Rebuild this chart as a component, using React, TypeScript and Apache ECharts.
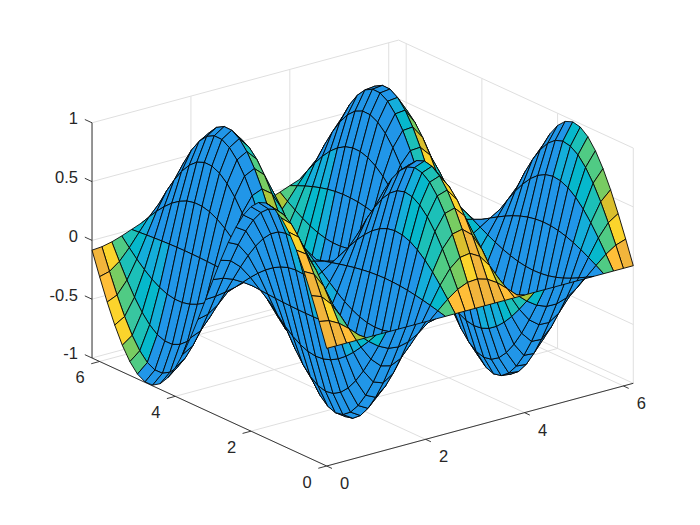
import React, { useEffect, useRef } from "react";
import * as echarts from "echarts";

// Height profile read along x (y held at the ridge), one value per mesh column
const zAlongX = [1, 0.921, 0.697, 0.362, -0.029, -0.416, -0.737, -0.942, -0.998, -0.897, -0.654, -0.307, 0.087, 0.469, 0.776, 0.96, 0.993, 0.869, 0.608, 0.246, -0.146, -0.519, -0.811, -0.975, -0.985, -0.839, -0.557, -0.186, 0.203, 0.568, 0.844, 0.986];
// Height profile read along y, one value per mesh row
const zAlongY = [0, 0.199, 0.389, 0.565, 0.717, 0.841, 0.932, 0.985, 1, 0.974, 0.909, 0.808, 0.675, 0.516, 0.335, 0.141, -0.058, -0.256, -0.443, -0.612, -0.757, -0.872, -0.952, -0.994, -0.996, -0.959, -0.883, -0.773, -0.631, -0.465, -0.279, -0.083];
// Colour strength of each face, read per column and per row
const colourAlongX = [1.3, 0.8, 0.56, 0.4, 0.28, 0.18, 0.1, -0.3, -1, -0.55, -0.3, -0.15, 0.3, 0.56, 0.62, 0.8, 1.3, 0.8, 0.66, 0.56, 0.4, 0.18, 0.1, -0.6, -1.2, -0.55, -0.3, -0.15, 0.3, 0.55, 0.82];
const colourAlongY = [1.7, 1, 0.9, 0.75, 0.65, 0.62, 0.5, 0.4, 0.1, -0.4, -0.5, -0.62, -0.65, -0.75, -0.9, -1.1, -1.3, -0.95, -0.7, -0.6, -0.5, -0.4, -0.3, -0.15, 0.15, 0.4, 0.5, 0.62, 0.65, 0.75, 1];
const colourSteps: [number, string][] = [[1.15, "#F2B53C"], [0.9, "#FFBE38"], [0.78, "#FBD42C"], [0.72, "#DABF2E"], [0.66, "#ACC73A"], [0.58, "#78CC62"], [0.5, "#50CB84"], [0.43, "#38C6A0"], [0.36, "#1CC0B8"], [0.28, "#06B8CC"], [0.2, "#14AEDA"]];
const baseBlue = "#2196E8";

const xTicks = [0, 2, 4, 6];
const yTicks = [0, 2, 4, 6];
const zTicks = [-1, -0.5, 0, 0.5, 1];
const zTickLabels = ["-1", "-0.5", "0", "0.5", "1"];
const meshStep = 0.2;
const xMax = 6.2;
const yMax = 6.2;

function project(x: number, y: number, z: number): [number, number] {
  return [326.7 + 49.45 * x - 37.85 * y, 466 - 13.34 * x - 17.42 * y - 117.6 * (z + 1)];
}

function faceColour(i: number, j: number) {
  const w = colourAlongX[i] * colourAlongY[j];
  for (const [limit, colour] of colourSteps) if (w >= limit) return colour;
  return baseBlue;
}

const cells: number[][] = [];
for (let i = zAlongX.length - 2; i >= 0; i--) for (let j = zAlongY.length - 2; j >= 0; j--) cells.push([i, j]);

type Seg = number[];
const gridSegs: Seg[] = [];
for (const x of xTicks) {
  gridSegs.push([x, 0, -1, x, yMax, -1]);
  gridSegs.push([x, yMax, -1, x, yMax, 1]);
}
for (const y of yTicks) {
  gridSegs.push([0, y, -1, xMax, y, -1]);
  gridSegs.push([xMax, y, -1, xMax, y, 1]);
}
for (const z of zTicks) {
  gridSegs.push([0, yMax, z, xMax, yMax, z]);
  gridSegs.push([xMax, yMax, z, xMax, 0, z]);
}

const axisSegs: Seg[] = [
  [0, 0, -1, xMax, 0, -1],
  [0, 0, -1, 0, yMax, -1],
  [0, yMax, -1, 0, yMax, 1],
];
const tickX = 0.17, tickY = 0.14, tickYz = 0.19;
for (const x of xTicks) axisSegs.push([x, 0, -1, x, -tickY, -1]);
for (const y of yTicks) axisSegs.push([0, y, -1, -tickX, y, -1]);
for (const z of zTicks) axisSegs.push([0, yMax, z, 0, yMax + tickYz, z]);

const labels: { t: string; p: [number, number, number]; dx: number; dy: number; align: string }[] = [
  ...xTicks.map((x) => ({ t: String(x), p: [x, 0, -1] as [number, number, number], dx: 18, dy: 17, align: "center" })),
  ...yTicks.map((y) => ({ t: String(y), p: [0, y, -1] as [number, number, number], dx: -19.5, dy: 16, align: "center" })),
  ...zTicks.map((z, k) => ({ t: zTickLabels[k], p: [0, yMax, z] as [number, number, number], dx: -14, dy: -4.5, align: "right" })),
];

export default function App() {
  const ref = useRef<HTMLDivElement>(null);
  useEffect(() => {
    document.body.style.margin = "0";
    const chart = echarts.init(ref.current!, null, { renderer: "svg" });
    const segSeries = (name: string, segs: Seg[], colour: string, width: number) => ({
      type: "custom",
      name,
      silent: true,
      clip: false,
      data: segs.map((_, k) => [k, k]),
      encode: { x: 0, y: 1 },
      renderItem: (params: any, api: any) => {
        const s = segs[params.dataIndex];
        const a = api.coord(project(s[0], s[1], s[2]));
        const b = api.coord(project(s[3], s[4], s[5]));
        return {
          type: "line",
          shape: { x1: a[0], y1: a[1], x2: b[0], y2: b[1] },
          style: { stroke: colour, lineWidth: width, fill: null },
        };
      },
    });
    chart.setOption({
      animation: false,
      backgroundColor: "#ffffff",
      grid: { left: 0, right: 0, top: 0, bottom: 0 },
      xAxis: { type: "value", min: 0, max: 700, show: false },
      yAxis: { type: "value", min: 0, max: 525, inverse: true, show: false },
      series: [
        segSeries("grid", gridSegs, "#dfdfdf", 1),
        segSeries("axes", axisSegs, "#262626", 0.9),
        {
          type: "custom",
          name: "surface",
          silent: true,
          clip: false,
          progressive: 0,
          data: cells,
          encode: { x: 0, y: 1 },
          renderItem: (params: any, api: any) => {
            const [i, j] = cells[params.dataIndex];
            const corners = [[i, j], [i + 1, j], [i + 1, j + 1], [i, j + 1]].map(([a, b]) =>
              api.coord(project(a * meshStep, b * meshStep, zAlongX[a] * zAlongY[b]))
            );
            return {
              type: "polygon",
              shape: { points: corners },
              style: { fill: faceColour(i, j), stroke: "#050505", lineWidth: 0.9, lineJoin: "round" },
            };
          },
        },
        {
          type: "custom",
          name: "tick labels",
          silent: true,
          clip: false,
          data: labels.map((_, k) => [k, k]),
          encode: { x: 0, y: 1 },
          renderItem: (params: any, api: any) => {
            const l = labels[params.dataIndex];
            const c = api.coord(project(l.p[0], l.p[1], l.p[2]));
            return {
              type: "text",
              x: c[0] + l.dx,
              y: c[1] + l.dy,
              style: {
                text: l.t,
                fill: "#262626",
                fontSize: 16.5,
                fontFamily: "Liberation Sans, Arial, sans-serif",
                align: l.align,
                verticalAlign: "middle",
              },
            };
          },
        },
      ],
    });
    return () => chart.dispose();
  }, []);
  return <div ref={ref} style={{ width: 700, height: 525 }} />;
}
